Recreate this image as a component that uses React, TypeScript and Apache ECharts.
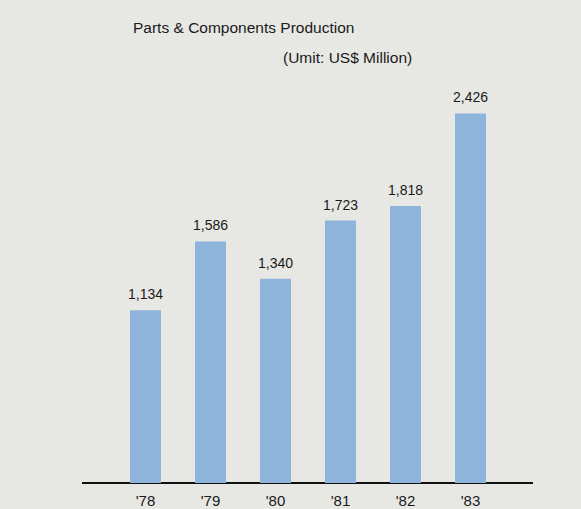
import React, { useEffect, useRef } from "react";
import * as echarts from "echarts";

const categories = ["'78", "'79", "'80", "'81", "'82", "'83"];
const values = [1134, 1586, 1340, 1723, 1818, 2426];
const titleText = "Parts & Components Production";
const unitText = "(Umit: US$ Million)";

const FONT = "Liberation Sans, Arial, sans-serif";

export default function App() {
  const ref = useRef<HTMLDivElement>(null);
  useEffect(() => {
    document.body.style.margin = "0";
    const chart = echarts.init(ref.current!, null, { renderer: "svg" });
    chart.setOption({
      animation: false,
      backgroundColor: "#e7e7e4",
      textStyle: { fontFamily: FONT },
      grid: { left: 113, width: 390, top: 26, height: 457 },
      xAxis: {
        type: "category",
        data: categories,
        axisLine: { show: false },
        axisTick: { show: false },
        axisLabel: { color: "#1a1a1a", fontSize: 15, margin: 10, fontFamily: FONT },
      },
      yAxis: {
        type: "value",
        min: 0,
        max: 3000,
        show: false,
        splitLine: { show: false },
      },
      series: [
        {
          type: "bar",
          data: values,
          barWidth: 31,
          itemStyle: { color: "#8fb4dc" },
          label: {
            show: true,
            position: "top",
            distance: 9,
            color: "#1a1a1a",
            fontSize: 14,
            fontFamily: FONT,
            formatter: (p: any) => p.value.toLocaleString("en-US"),
          },
        },
      ],
      graphic: [
        {
          type: "line",
          shape: { x1: 82, y1: 483, x2: 533, y2: 483 },
          style: { stroke: "#111", lineWidth: 2 },
        },
        {
          type: "text",
          x: 133,
          y: 19,
          style: { text: titleText, fontSize: 15.5, fill: "#1a1a1a", fontFamily: FONT },
        },
        {
          type: "text",
          x: 283,
          y: 49,
          style: { text: unitText, fontSize: 15.5, fill: "#1a1a1a", fontFamily: FONT },
        },
      ],
    });
    return () => chart.dispose();
  }, []);
  return <div ref={ref} style={{ width: 581, height: 509, position: "fixed", left: 0, top: 0 }} />;
}
